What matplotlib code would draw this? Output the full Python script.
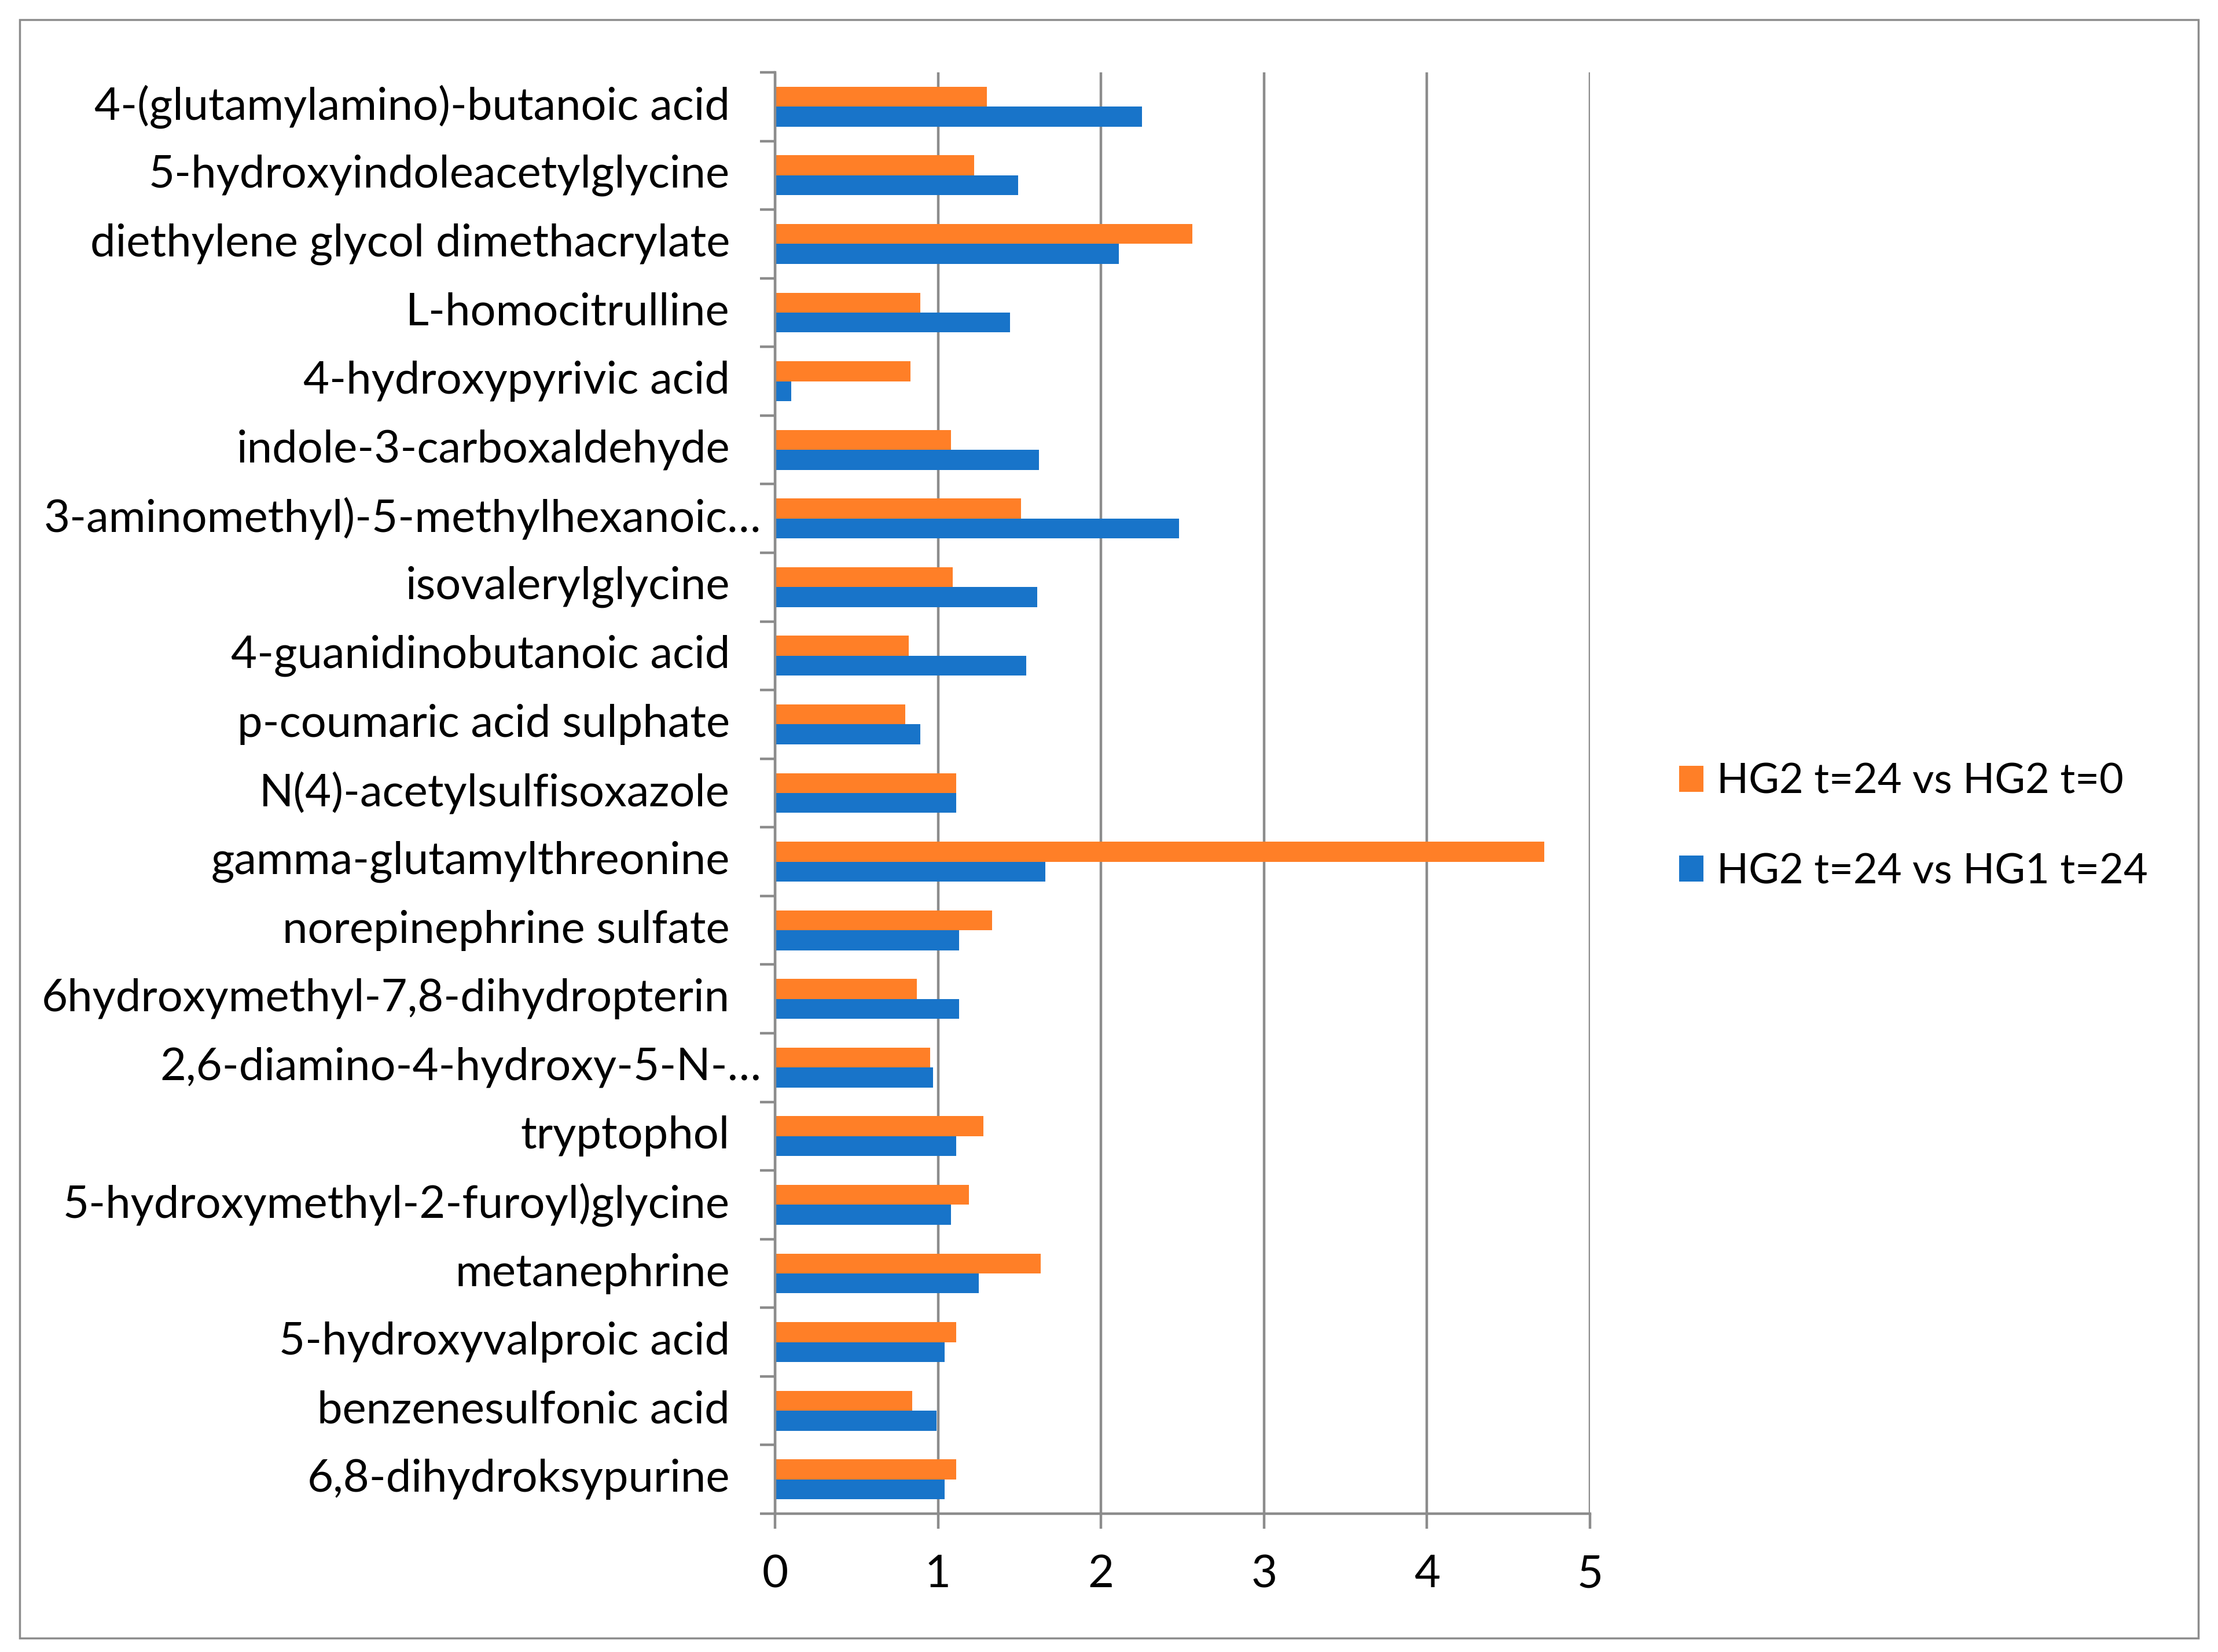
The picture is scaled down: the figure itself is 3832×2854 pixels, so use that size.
import matplotlib
matplotlib.use('Agg')
import matplotlib.pyplot as plt
from matplotlib.transforms import blended_transform_factory
from matplotlib.patches import Rectangle
import numpy as np

# metabolites, top to bottom as in the chart
compounds = [
    '4-(glutamylamino)-butanoic acid',
    '5-hydroxyindoleacetylglycine',
    'diethylene glycol dimethacrylate',
    'L-homocitrulline',
    '4-hydroxypyrivic acid',
    'indole-3-carboxaldehyde',
    '3-aminomethyl)-5-methylhexanoic\u2026',
    'isovalerylglycine',
    '4-guanidinobutanoic acid',
    'p-coumaric acid sulphate',
    'N(4)-acetylsulfisoxazole',
    'gamma-glutamylthreonine',
    'norepinephrine sulfate',
    '6hydroxymethyl-7,8-dihydropterin',
    '2,6-diamino-4-hydroxy-5-N-\u2026',
    'tryptophol',
    '5-hydroxymethyl-2-furoyl)glycine',
    'metanephrine',
    '5-hydroxyvalproic acid',
    'benzenesulfonic acid',
    '6,8-dihydroksypurine',
]
hg2_vs_t0 = [1.30, 1.22, 2.56, 0.89, 0.83, 1.08, 1.51, 1.09, 0.82, 0.80, 1.11,
             4.72, 1.33, 0.87, 0.95, 1.28, 1.19, 1.63, 1.11, 0.84, 1.11]
hg2_vs_hg1 = [2.25, 1.49, 2.11, 1.44, 0.10, 1.62, 2.48, 1.61, 1.54, 0.89, 1.11,
              1.66, 1.13, 1.13, 0.97, 1.11, 1.08, 1.25, 1.04, 0.99, 1.04]
series_names = ['HG2 t=24 vs HG2 t=0', 'HG2 t=24 vs HG1 t=24']
x_ticks = [0, 1, 2, 3, 4, 5]

ORANGE = '#ff7f27'
BLUE = '#1874c9'
GREY = '#8c8c8c'
FS = 56
FS_LEG = 52

plt.rcParams['font.family'] = ['Lato', 'DejaVu Sans']

W, H = 3832, 2854
fig = plt.figure(figsize=(W / 100, H / 100), dpi=100)
ax = fig.add_axes([1339 / W, 1 - 2615 / H, (2747 - 1339) / W, (2615 - 125) / H])

n = len(compounds)
y = np.arange(n)[::-1]
bh = 0.29
ax.barh(y + bh / 2, hg2_vs_t0, height=bh, color=ORANGE, label=series_names[0], zorder=3)
ax.barh(y - bh / 2, hg2_vs_hg1, height=bh, color=BLUE, label=series_names[1], zorder=3)

ax.set_xlim(0, 5)
ax.set_ylim(-0.5, n - 0.5)
ax.set_xticks(x_ticks)
ax.set_xticklabels([str(t) for t in x_ticks], fontsize=FS)
ax.set_yticks(np.arange(-0.5, n, 1.0))
ax.set_yticklabels([])

ax.tick_params(axis='both', direction='out', length=18.5, width=3.2, color=GREY)
ax.tick_params(axis='x', pad=32)

ax.grid(axis='x', color=GREY, linewidth=3.2, zorder=0)
ax.set_axisbelow(True)
for side in ['top', 'right']:
    ax.spines[side].set_visible(False)
for side in ['left', 'bottom']:
    ax.spines[side].set_color(GREY)
    ax.spines[side].set_linewidth(3.2)
    ax.spines[side].set_zorder(4)

# category labels; truncated ones sit closer to the axis, like Excel does
trans = blended_transform_factory(ax.transAxes, ax.transData)
for yi, name in zip(y, compounds):
    xpos = -0.017 if name.endswith('\u2026') else -0.0554
    ax.text(xpos, yi, name, transform=trans, ha='right', va='center', fontsize=FS)

handles, labels = ax.get_legend_handles_labels()
fig.legend(handles, labels, loc='center left', bbox_to_anchor=(2901 / W, 1 - 1428 / H),
           frameon=False, fontsize=FS_LEG, borderpad=0, borderaxespad=0,
           handlelength=0.58, handleheight=0.58, handletextpad=0.32, labelspacing=1.25)

fig.add_artist(Rectangle((34 / W, 1 - 2830 / H), (3798 - 34) / W, (2830 - 34) / H,
                         transform=fig.transFigure, fill=False, edgecolor=GREY, linewidth=2.5))

fig.savefig('out.png', dpi=100, facecolor='white')
